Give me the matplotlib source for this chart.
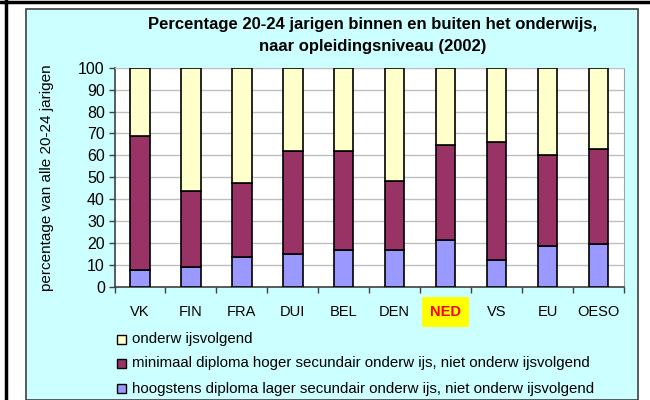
import numpy as np
import matplotlib.pyplot as plt
from matplotlib.patches import Rectangle
from matplotlib.lines import Line2D

plt.rcParams['font.family'] = ['Liberation Sans', 'DejaVu Sans']

landen = ['VK', 'FIN', 'FRA', 'DUI', 'BEL', 'DEN', 'NED', 'VS', 'EU', 'OESO']
# cumulative tops
lager = [7.8, 9.0, 13.7, 14.9, 16.8, 16.8, 21.3, 12.2, 18.7, 19.5]
hoger_top = [69.0, 43.8, 47.2, 62.1, 62.1, 48.4, 64.8, 66.1, 60.3, 62.7]
labels = ['onderw ijsvolgend',
          'minimaal diploma hoger secundair onderw ijs, niet onderw ijsvolgend',
          'hoogstens diploma lager secundair onderw ijs, niet onderw ijsvolgend']
kleuren = ['#FFFFCC', '#993366', '#9999FF']

W, H = 650, 400
fig = plt.figure(figsize=(6.5, 4), dpi=100)
fig.patch.set_facecolor('white')

def fx(px):
    return px / W

def fy(py):
    return 1 - py / H

# outer frame lines and cyan panel
fig.add_artist(Rectangle((fx(26), 0), fx(638) - fx(26), fy(9), transform=fig.transFigure,
                         facecolor='#CCFFFF', edgecolor='#404040', lw=1.2, zorder=0))
fig.add_artist(Line2D([0, 1], [fy(1.5), fy(1.5)], color='black', lw=2.5, transform=fig.transFigure))
fig.add_artist(Line2D([fx(6), fx(6)], [0, 1], color='black', lw=2.5, transform=fig.transFigure))

ax = fig.add_axes([fx(114.5), fy(287), fx(624) - fx(114.5), fy(67.7) - fy(287)])
ax.set_facecolor('white')

x = np.arange(len(landen))
lager = np.array(lager)
hoger_top = np.array(hoger_top)
bw = 0.38
ax.bar(x, lager, bw, color=kleuren[2], edgecolor='black', lw=1.2, zorder=3)
ax.bar(x, hoger_top - lager, bw, bottom=lager, color=kleuren[1], edgecolor='black', lw=1.2, zorder=3)
ax.bar(x, 100 - hoger_top, bw, bottom=hoger_top, color=kleuren[0], edgecolor='black', lw=1.2, zorder=3)

ax.set_xlim(-0.5, len(landen) - 0.5)
ax.set_ylim(0, 100)
ax.set_yticks(np.arange(0, 101, 10))
ax.yaxis.grid(True, color='#C0C0C0', lw=1)
ax.set_axisbelow(True)
ax.set_xticks(np.arange(-0.5, len(landen), 1))
ax.set_xticklabels([])
ax.set_xticks(x, minor=True)
ax.set_xticklabels(landen, minor=True, fontsize=10.5)
ax.tick_params(axis='x', which='major', length=4, width=1, color='#404040', direction='out')
ax.tick_params(axis='x', which='minor', length=0, pad=13)
ax.tick_params(axis='y', length=4, width=1, color='#404040', labelsize=11.5, pad=3)
for s in ['left', 'bottom']:
    ax.spines[s].set_color('#404040')
    ax.spines[s].set_linewidth(1.2)
ax.spines['right'].set_color('#A0A0A0')
ax.spines['top'].set_color('#C0C0C0')

for lbl in ax.get_xticklabels(minor=True):
    if lbl.get_text() == 'NED':
        lbl.set_color('red')
        lbl.set_fontweight('bold')
        lbl.set_bbox(dict(facecolor='yellow', edgecolor='none', boxstyle='square,pad=0.55'))

fig.text(fx(372.5), fy(25), 'Percentage 20-24 jarigen binnen en buiten het onderwijs,',
         ha='center', va='center', fontsize=12, fontweight='bold')
fig.text(fx(372.5), fy(47), 'naar opleidingsniveau (2002)',
         ha='center', va='center', fontsize=12, fontweight='bold')
fig.text(fx(47), fy(178), 'percentage van alle 20-24 jarigen', rotation=90,
         ha='center', va='center', fontsize=11)

# legend
rij_y = [339.5, 363.5, 388.5]
for k in range(3):
    fig.add_artist(Rectangle((fx(117), fy(rij_y[k] + 4.5)), fx(9), 9 / H, transform=fig.transFigure,
                             facecolor=kleuren[k], edgecolor='black', lw=1))
    fig.text(fx(132), fy(rij_y[k]), labels[k], ha='left', va='center', fontsize=10.8)

fig.savefig('out.png', dpi=100)
